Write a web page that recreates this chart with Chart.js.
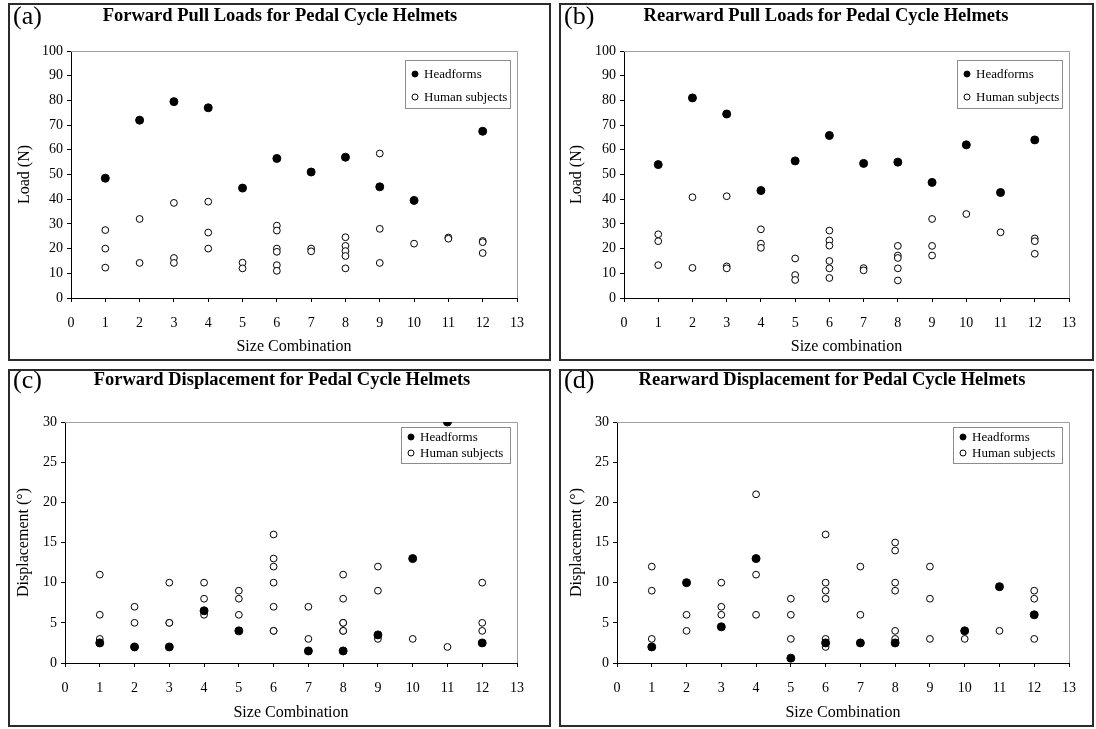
<!DOCTYPE html>
<html>
<head>
<meta charset="utf-8">
<title>Pull loads and displacement for pedal cycle helmets</title>
<script src="https://cdn.jsdelivr.net/npm/chart.js@4.4.1/dist/chart.umd.min.js"></script>
<style>
  html, body { margin: 0; padding: 0; background: #fff; }
  #page { position: relative; width: 1096px; height: 729px; overflow: hidden; background: #fff; }
  .panel { position: absolute; border: 2px solid #2b2b2b; box-sizing: border-box; background: #fff; }
  .panel canvas { display: block; }
</style>
</head>
<body>
<div id="page">
  <div class="panel" style="left:8px; top:3px; width:543px; height:358px;"><canvas id="chartA" width="539" height="354"></canvas></div>
  <div class="panel" style="left:559px; top:3px; width:535px; height:358px;"><canvas id="chartB" width="531" height="354"></canvas></div>
  <div class="panel" style="left:8px; top:369px; width:543px; height:358px;"><canvas id="chartC" width="539" height="354"></canvas></div>
  <div class="panel" style="left:559px; top:369px; width:535px; height:358px;"><canvas id="chartD" width="531" height="354"></canvas></div>
</div>
<script>
// (a) forward pull loads, N
const fwdLoadHeadX = [1, 2, 3, 4, 5, 6, 7, 8, 9, 10, 12];
const fwdLoadHeadY = [48.5, 72, 79.5, 77, 44.5, 56.5, 51, 57, 45, 39.5, 67.5];
const fwdLoadHumanX = [1, 1, 1, 2, 2, 3, 3, 3, 4, 4, 4, 5, 5, 6, 6, 6, 6, 6, 6, 7, 7, 8, 8, 8, 8, 8, 9, 9, 9, 10, 11, 11, 12, 12, 12];
const fwdLoadHumanY = [27.5, 20, 12.3, 32, 14.2, 38.5, 16.2, 14.2, 39, 26.5, 20, 14.3, 12, 29.3, 27.3, 20, 18.7, 13.3, 11, 20, 18.9, 24.6, 21.1, 19, 17, 12, 58.5, 28, 14.2, 22, 24.5, 24, 23.1, 22.6, 18.2];

// (b) rearward pull loads, N
const rwdLoadHeadX = [1, 2, 3, 4, 5, 6, 7, 8, 9, 10, 11, 12];
const rwdLoadHeadY = [54, 81, 74.5, 43.5, 55.5, 65.8, 54.5, 55, 46.8, 62, 42.7, 64];
const rwdLoadHumanX = [1, 1, 1, 2, 2, 3, 3, 3, 4, 4, 4, 5, 5, 5, 6, 6, 6, 6, 6, 6, 7, 7, 8, 8, 8, 8, 8, 9, 9, 9, 10, 11, 12, 12, 12];
const rwdLoadHumanY = [25.8, 23, 13.3, 40.8, 12.2, 41.2, 12.8, 12, 27.8, 22, 20.3, 16, 9.3, 7.3, 27.3, 23.3, 21.2, 15, 12, 8.1, 12.1, 11.2, 21.1, 17.2, 16.2, 12, 7.1, 32, 21.1, 17.2, 34, 26.6, 24.1, 23, 17.9];

// (c) forward displacement, degrees
const fwdDispHeadX = [1, 2, 3, 4, 5, 7, 8, 9, 10, 11, 12];
const fwdDispHeadY = [2.5, 2, 2, 6.5, 4, 1.5, 1.5, 3.5, 13, 30, 2.5];
const fwdDispHumanX = [1, 1, 1, 2, 2, 3, 3, 3, 4, 4, 4, 5, 5, 5, 6, 6, 6, 6, 6, 6, 6, 7, 7, 8, 8, 8, 8, 8, 8, 9, 9, 9, 10, 11, 12, 12, 12];
const fwdDispHumanY = [11, 6, 3, 7, 5, 10, 5, 5, 10, 8, 6, 9, 8, 6, 16, 13, 12, 10, 7, 4, 4, 7, 3, 11, 8, 5, 5, 4, 4, 12, 9, 3, 3, 2, 10, 5, 4];

// (d) rearward displacement, degrees
const rwdDispHeadX = [1, 2, 3, 4, 5, 6, 7, 8, 10, 11, 12];
const rwdDispHeadY = [2, 10, 4.5, 13, 0.6, 2.5, 2.5, 2.5, 4, 9.5, 6];
const rwdDispHumanX = [1, 1, 1, 2, 2, 3, 3, 3, 4, 4, 4, 5, 5, 5, 6, 6, 6, 6, 6, 6, 7, 7, 8, 8, 8, 8, 8, 8, 9, 9, 9, 10, 11, 12, 12, 12];
const rwdDispHumanY = [12, 9, 3, 6, 4, 10, 7, 6, 21, 11, 6, 8, 6, 3, 16, 10, 9, 8, 3, 2, 12, 6, 15, 14, 10, 9, 4, 3, 12, 8, 3, 3, 4, 9, 8, 3];

const serif = '"Liberation Serif", "Times New Roman", serif';

function toPoints(xs, ys) {
  return xs.map((x, i) => ({ x: x, y: ys[i] }));
}

// grey top and right edges of the plot area
const plotFrame = {
  id: 'plotFrame',
  beforeDatasetsDraw(chart) {
    const { ctx, chartArea: a } = chart;
    ctx.save();
    ctx.strokeStyle = '#a0a0a0';
    ctx.lineWidth = 1;
    ctx.beginPath();
    ctx.moveTo(a.left, Math.round(a.top) + 0.5);
    ctx.lineTo(Math.round(a.right) + 0.5, Math.round(a.top) + 0.5);
    ctx.lineTo(Math.round(a.right) + 0.5, a.bottom);
    ctx.stroke();
    ctx.restore();
  }
};

// boxed legend sitting inside the plot, top right
const boxLegend = {
  id: 'boxLegend',
  afterDatasetsDraw(chart, args, o) {
    const { ctx, chartArea: a } = chart;
    const x = Math.round(a.right - o.right - o.width);
    const y = Math.round(a.top + o.top);
    ctx.save();
    ctx.fillStyle = '#fff';
    ctx.fillRect(x, y, o.width, o.height);
    ctx.strokeStyle = '#8c8c8c';
    ctx.lineWidth = 1;
    ctx.strokeRect(x + 0.5, y + 0.5, o.width, o.height);
    ctx.font = '13px ' + serif;
    ctx.textBaseline = 'middle';
    chart.data.datasets.forEach((ds, i) => {
      const ry = y + o.firstRow + i * o.rowGap;
      ctx.beginPath();
      ctx.arc(x + 10, ry, 3, 0, Math.PI * 2);
      ctx.fillStyle = ds.pointBackgroundColor;
      ctx.fill();
      ctx.strokeStyle = '#000';
      ctx.stroke();
      ctx.fillStyle = '#000';
      ctx.fillText(ds.label, x + 19, ry + 1);
    });
    ctx.restore();
  }
};

// "(a)" tag in the corner and the bold heading over the plot
const panelHeading = {
  id: 'panelHeading',
  afterDraw(chart, args, o) {
    const { ctx } = chart;
    ctx.save();
    ctx.fillStyle = '#000';
    ctx.textBaseline = 'middle';
    ctx.font = '26px ' + serif;
    ctx.textAlign = 'left';
    ctx.fillText(o.tag, 3, o.y + 1);
    ctx.font = 'bold 18.5px ' + serif;
    ctx.textAlign = 'center';
    ctx.fillText(o.text, o.x, o.y);
    ctx.restore();
  }
};

function makePanel(id, p) {
  const tickFont = { family: serif, size: 14 };
  const axisFont = { family: serif, size: 16 };
  return new Chart(document.getElementById(id), {
    type: 'scatter',
    data: {
      datasets: [
        { label: 'Headforms', data: toPoints(p.headX, p.headY),
          pointRadius: 4, pointBackgroundColor: '#000', pointBorderColor: '#000', pointBorderWidth: 1 },
        { label: 'Human subjects', data: toPoints(p.humanX, p.humanY),
          pointRadius: 3.4, pointBackgroundColor: '#fff', pointBorderColor: '#000', pointBorderWidth: 1 }
      ]
    },
    options: {
      responsive: false,
      animation: false,
      events: [],
      layout: { padding: { left: 0, right: p.padRight, top: p.padTop, bottom: 0 } },
      scales: {
        x: {
          type: 'linear', min: 0, max: 13,
          afterFit: (s) => { s.height = p.xHeight; },
          ticks: { stepSize: 1, autoSkip: false, maxRotation: 0, padding: 13, color: '#000', font: tickFont },
          grid: { drawOnChartArea: false, tickLength: 4, tickColor: '#000' },
          border: { color: '#000', width: 1 },
          title: { display: true, text: p.xTitle, color: '#000', font: axisFont, padding: { top: 0, bottom: p.xTitlePad } }
        },
        y: {
          min: 0, max: p.yMax,
          afterFit: (s) => { s.width = p.yWidth; },
          ticks: { stepSize: p.yStep, padding: 4, color: '#000', font: tickFont },
          grid: { drawOnChartArea: false, tickLength: 4, tickColor: '#000' },
          border: { color: '#000', width: 1 },
          title: { display: true, text: p.yTitle, color: '#000', font: axisFont, padding: { top: p.yTitlePad, bottom: 0 } }
        }
      },
      plugins: {
        legend: { display: false },
        tooltip: { enabled: false },
        title: { display: false },
        panelHeading: { tag: p.tag, text: p.title, x: p.titleX, y: p.titleY },
        boxLegend: p.legend
      }
    },
    plugins: [plotFrame, boxLegend, panelHeading]
  });
}

const tallLegend = { right: 7, top: 9, width: 105, height: 48, firstRow: 14, rowGap: 23 };
const flatLegend = { right: 7, top: 5, width: 109, height: 36, firstRow: 10, rowGap: 16 };

makePanel('chartA', {
  tag: '(a)', title: 'Forward Pull Loads for Pedal Cycle Helmets', titleX: 270, titleY: 11,
  headX: fwdLoadHeadX, headY: fwdLoadHeadY, humanX: fwdLoadHumanX, humanY: fwdLoadHumanY,
  yMax: 100, yStep: 10, yTitle: 'Load (N)', xTitle: 'Size Combination',
  padTop: 46, yWidth: 61, padRight: 32, xHeight: 61, xTitlePad: 2.4, yTitlePad: 5.4, legend: tallLegend
});

makePanel('chartB', {
  tag: '(b)', title: 'Rearward Pull Loads for Pedal Cycle Helmets', titleX: 265, titleY: 11,
  headX: rwdLoadHeadX, headY: rwdLoadHeadY, humanX: rwdLoadHumanX, humanY: rwdLoadHumanY,
  yMax: 100, yStep: 10, yTitle: 'Load (N)', xTitle: 'Size combination',
  padTop: 46, yWidth: 63, padRight: 23, xHeight: 61, xTitlePad: 2.4, yTitlePad: 6.4, legend: tallLegend
});

makePanel('chartC', {
  tag: '(c)', title: 'Forward Displacement for Pedal Cycle Helmets', titleX: 272, titleY: 9,
  headX: fwdDispHeadX, headY: fwdDispHeadY, humanX: fwdDispHumanX, humanY: fwdDispHumanY,
  yMax: 30, yStep: 5, yTitle: 'Displacement (°)', xTitle: 'Size Combination',
  padTop: 51, yWidth: 55, padRight: 32, xHeight: 62, xTitlePad: 3, yTitlePad: 4.4, legend: flatLegend
});

makePanel('chartD', {
  tag: '(d)', title: 'Rearward Displacement for Pedal Cycle Helmets', titleX: 271, titleY: 9,
  headX: rwdDispHeadX, headY: rwdDispHeadY, humanX: rwdDispHumanX, humanY: rwdDispHumanY,
  yMax: 30, yStep: 5, yTitle: 'Displacement (°)', xTitle: 'Size Combination',
  padTop: 51, yWidth: 56, padRight: 23, xHeight: 62, xTitlePad: 3, yTitlePad: 6.4, legend: flatLegend
});
</script>
</body>
</html>
